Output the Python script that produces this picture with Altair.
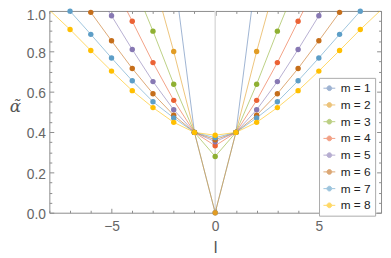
import altair as alt
import pandas as pd

# ---- data ----
m_values = [1, 2, 3, 4, 5, 6, 7, 8]
palette = ["#5E81B5", "#E19C24", "#8FB032", "#EB6235",
           "#8778B3", "#C56E1A", "#5D9EC7", "#FFBF00"]

# alpha-tilde at |l| = 0, 1, 2, ... (curves are symmetric in l)
alpha_m1 = [0.0, 0.398, 1.20]
alpha_m2 = [0.0, 0.398, 0.799, 1.17]
alpha_m3 = [0.279, 0.398, 0.637, 0.900, 1.15]
alpha_m4 = [0.332, 0.398, 0.557, 0.744, 0.949, 1.15]
alpha_m5 = [0.352, 0.398, 0.510, 0.650, 0.809, 0.976, 1.13]
alpha_m6 = [0.362, 0.398, 0.483, 0.590, 0.715, 0.852, 0.993, 1.12]
alpha_m7 = [0.372, 0.398, 0.470, 0.550, 0.654, 0.767, 0.884, 0.999, 1.11]
alpha_m8 = [0.384, 0.398, 0.448, 0.521, 0.605, 0.702, 0.804, 0.908, 1.005]

x_ticks = list(range(-8, 9))
x_labels = [-5, 0, 5]
y_ticks = [round(0.05 * k, 2) for k in range(21)]
y_labels = [0.0, 0.2, 0.4, 0.6, 0.8, 1.0]

alpha_by_m = {1: alpha_m1, 2: alpha_m2, 3: alpha_m3, 4: alpha_m4,
              5: alpha_m5, 6: alpha_m6, 7: alpha_m7, 8: alpha_m8}
rows = []
for m in m_values:
    arr = alpha_by_m[m]
    n = len(arr)
    for l in range(-(n - 1), n):
        rows.append({"m": m, "l": l, "v": arr[abs(l)]})
df = pd.DataFrame(rows)
zero_df = pd.DataFrame({"l": [0]})

# ---- styling ----
W, H = 337, 205
FRAME = "#8c8c8c"
LABEL = "#666666"
FONT = "Liberation Sans"
xs = alt.Scale(domain=[-8, 8], nice=False, zero=False)
ys = alt.Scale(domain=[0, 1], nice=False, zero=False)
cs = alt.Scale(domain=m_values, range=palette)

x_major = "datum.value % 5 == 0"
y_major = "abs(datum.value * 5 - round(datum.value * 5)) < 0.001"


def tick_axis(orient, offset, values, test):
    return alt.Axis(orient=orient, offset=offset, values=values, labels=False,
                    domain=False, grid=False, ticks=True, tickColor=FRAME,
                    tickWidth=1, title=None,
                    tickSize={"condition": {"test": test, "value": 4.5}, "value": 2.5})


x_label_axis = alt.Axis(orient="bottom", values=x_labels, format="d", ticks=False,
                        domain=False, grid=False, labelFont=FONT, labelFontSize=14,
                        labelColor=LABEL, labelPadding=7, title="l",
                        titleFont=FONT, titleFontSize=17, titleFontWeight="normal",
                        titleColor="#555555", titlePadding=6)
y_label_axis = alt.Axis(orient="left", values=y_labels, format=".1f", ticks=False,
                        domain=False, grid=False, labelFont=FONT, labelFontSize=14,
                        labelColor=LABEL, labelPadding=4,
                        labelOffset={"condition": {"test": "datum.value == 1", "value": 5},
                                     "value": 2},
                        title="\u03b1\u0303", titleAngle=0, titleX=-35, titleY=97,
                        titleAlign="center", titleBaseline="middle",
                        titleFont="DejaVu Serif", titleFontStyle="italic",
                        titleFontSize=17, titleFontWeight="normal",
                        titleColor="#555555")

legend_path = ("M-1,0L-0.4,0M0.4,0L1,0M-0.4,0A0.4,0.4,0,1,0,0.4,0"
               "A0.4,0.4,0,1,0,-0.4,0Z")
leg = alt.Legend(title=None, orient="none", legendX=274, legendY=68,
                 fillColor="white", strokeColor="#aaaaaa", padding=4,
                 symbolType=legend_path, symbolSize=144, symbolStrokeWidth=1,
                 labelFont=FONT, labelFontSize=12, labelColor="#222222",
                 labelOffset=5, rowPadding=4,
                 labelExpr="'m = ' + datum.label + '  '")

zero_line = alt.Chart(zero_df).mark_rule(color="#dcdcdc", strokeWidth=1.5).encode(
    x=alt.X("l:Q", scale=xs, axis=x_label_axis)
)

lines = alt.Chart(df).mark_line(strokeWidth=1, opacity=0.6, clip=True).encode(
    x=alt.X("l:Q", scale=xs, axis=tick_axis("top", -H, x_ticks, x_major)),
    y=alt.Y("v:Q", scale=ys, axis=y_label_axis),
    color=alt.Color("m:N", scale=cs, legend=leg),
    order=alt.Order("l:Q"),
)

points = alt.Chart(df).transform_filter("datum.v <= 1").mark_circle(
    size=30, opacity=1
).encode(
    x=alt.X("l:Q", scale=xs, axis=tick_axis("bottom", -H, x_ticks, x_major)),
    y=alt.Y("v:Q", scale=ys, axis=tick_axis("right", -W, y_ticks, y_major)),
    color=alt.Color("m:N", scale=cs, legend=leg),
)

ghost = alt.Chart(df).transform_filter("datum.v <= 1").mark_point(opacity=0).encode(
    x=alt.X("l:Q", scale=xs, axis=None),
    y=alt.Y("v:Q", scale=ys, axis=tick_axis("left", -W, y_ticks, y_major)),
)

chart = alt.layer(zero_line, lines, points, ghost).resolve_axis(
    x="independent", y="independent"
).properties(
    width=W, height=H,
    autosize=alt.AutoSizeParams(type="none"),
    padding={"left": 42, "top": 1, "right": 2, "bottom": 44},
).configure_view(stroke=FRAME, strokeWidth=1)

chart.save("out.html", embed_options={"renderer": "svg", "actions": False})
